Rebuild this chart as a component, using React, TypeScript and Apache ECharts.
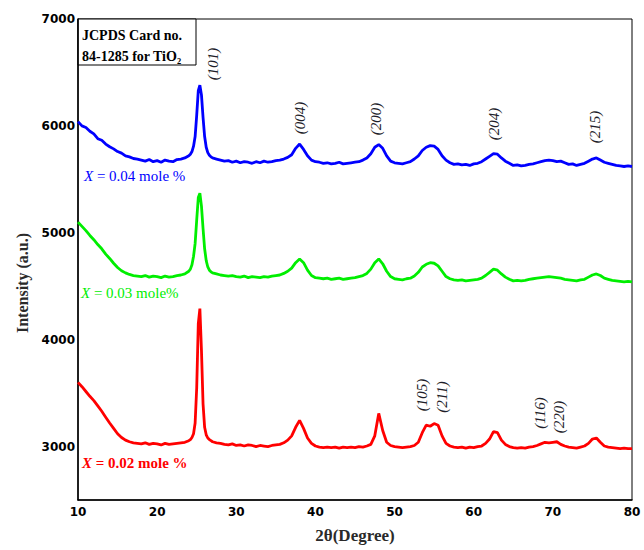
import React, { useEffect, useRef } from "react";
import * as echarts from "echarts";

const twoTheta = [
  10, 10.5, 11, 11.5, 12, 12.5, 13, 13.5, 14, 14.5, 15, 15.5, 16, 16.5, 17, 17.5, 18, 18.5, 19, 19.5, 20, 20.5, 21, 21.5, 22, 22.5, 23, 23.5, 24,
  24.2, 24.4, 24.6, 24.8, 25, 25.2, 25.4, 25.6, 25.8, 26, 26.2, 26.4, 26.6, 26.8,
  27, 27.5, 28, 28.5, 29, 29.5, 30, 30.5, 31, 31.5, 32, 32.5, 33, 33.5, 34, 34.5, 35, 35.5, 36, 36.5,
  37, 37.5, 38, 38.5, 39, 39.5, 40, 40.5, 41, 41.5, 42, 42.5, 43, 43.5, 44, 44.5, 45, 45.5, 46, 46.5,
  47, 47.5, 48, 48.5, 49, 49.5, 50, 50.5, 51, 51.5, 52, 52.5, 53, 53.5, 54, 54.5, 55, 55.5, 56, 56.5,
  57, 57.5, 58, 58.5, 59, 59.5, 60, 60.5, 61, 61.5, 62, 62.5, 63, 63.5, 64, 64.5, 65, 65.5, 66, 66.5,
  67, 67.5, 68, 68.5, 69, 69.5, 70, 70.5, 71, 71.5, 72, 72.5, 73, 73.5, 74, 74.5, 75, 75.5, 76, 76.5,
  77, 77.5, 78, 78.5, 79, 79.5, 80,
];

const x004 = [
  6040, 6000, 5985, 5950, 5925, 5880, 5865, 5830, 5805, 5785, 5760, 5745, 5720, 5710, 5695, 5690, 5680, 5670, 5685, 5665, 5675, 5660, 5680, 5670, 5665, 5685, 5690, 5700, 5720,
  5735, 5760, 5810, 5900, 6100, 6330, 6380, 6290, 6080, 5900, 5800, 5750, 5725, 5710,
  5700, 5690, 5680, 5670, 5675, 5660, 5670, 5655, 5665, 5660, 5650, 5665, 5655, 5670, 5660, 5665, 5675, 5680, 5690, 5705,
  5730, 5790, 5830, 5780, 5720, 5680, 5665, 5660, 5650, 5655, 5645, 5650, 5660, 5645, 5650, 5655, 5660, 5665, 5680, 5700,
  5740, 5800, 5825, 5790, 5720, 5670, 5655, 5650, 5645, 5655, 5665, 5690, 5720, 5770, 5800, 5815, 5810, 5780, 5720, 5680,
  5655, 5640, 5645, 5635, 5640, 5630, 5645, 5650, 5665, 5690, 5715, 5740, 5735, 5700, 5670, 5650, 5630, 5635, 5625, 5630,
  5640, 5645, 5655, 5665, 5675, 5680, 5675, 5665, 5670, 5655, 5640, 5645, 5630, 5640, 5650, 5670, 5690, 5700, 5680, 5660,
  5650, 5640, 5630, 5625, 5620, 5625, 5620,
];

const x003 = [
  5100, 5060, 5020, 4975, 4935, 4890, 4850, 4800, 4760, 4715, 4675, 4645, 4625, 4610, 4600, 4595, 4590, 4600, 4585, 4595, 4590, 4580, 4595, 4585, 4590, 4600, 4605, 4615, 4640,
  4660, 4700, 4780, 4900, 5120, 5330, 5370, 5250, 5040, 4850, 4740, 4680, 4650, 4635,
  4625, 4615, 4605, 4600, 4595, 4600, 4590, 4585, 4595, 4580, 4590, 4585, 4580, 4590, 4585, 4595, 4600, 4605, 4620, 4640,
  4670, 4720, 4755, 4720, 4650, 4600, 4580, 4575, 4570, 4575, 4565, 4570, 4575, 4565, 4570, 4575, 4580, 4590, 4600, 4620,
  4660, 4720, 4755, 4710, 4640, 4590, 4570, 4565, 4560, 4570, 4575, 4595, 4630, 4680, 4705, 4720, 4715, 4690, 4640, 4590,
  4570, 4560, 4555, 4560, 4550, 4555, 4560, 4565, 4575, 4600, 4630, 4660, 4650, 4615, 4585, 4565, 4550, 4555, 4550, 4555,
  4565, 4570, 4575, 4580, 4585, 4590, 4585, 4580, 4575, 4565, 4560, 4555, 4550, 4560, 4565, 4585, 4605, 4615, 4600, 4575,
  4565, 4555, 4550, 4545, 4540, 4545, 4540,
];

const x002 = [
  3600, 3560, 3515, 3470, 3430, 3380, 3330, 3275, 3220, 3170, 3120, 3085, 3060, 3045, 3035, 3030, 3025, 3035, 3020, 3030, 3025, 3015, 3030, 3020, 3025, 3030, 3035, 3040, 3055,
  3065, 3085, 3120, 3220, 3550, 4150, 4290, 3900, 3400, 3180, 3110, 3080, 3065, 3055,
  3045, 3035, 3030, 3020, 3015, 3025, 3010, 3015, 3005, 3015, 3010, 3000, 3010, 3005, 3000, 3010, 3015, 3020, 3035, 3060,
  3100, 3180, 3245, 3170, 3080, 3030, 3005, 2995, 2990, 2995, 2990, 2995, 2985, 2995, 2990, 2995, 2990, 3000, 2995, 3005,
  3020, 3100, 3310, 3150, 3040, 3010, 3000, 2995, 2990, 2995, 3000, 3010, 3040, 3130, 3200, 3190, 3215, 3200, 3100, 3030,
  3005, 2995, 2990, 2995, 2985, 2995, 2990, 3000, 3005, 3030, 3070, 3140, 3130, 3060, 3020, 3000, 2990, 2985, 2990, 2985,
  2995, 3000, 3010, 3025, 3040, 3035, 3040, 3045, 3020, 3005, 2995, 2990, 2985, 2995, 3005, 3030, 3070, 3080, 3040, 3005,
  2995, 2990, 2985, 2980, 2985, 2980, 2980,
];

const seriesNames = ["X = 0.04 mole %", "X = 0.03 mole%", "X = 0.02 mole %"];
const seriesColors = ["#0000ff", "#00ee00", "#ff0000"];

const peakLabels = ["(101)", "(004)", "(200)", "(204)", "(215)", "(105)", "(211)", "(116)", "(220)"];
const yTickLabels = ["3000", "4000", "5000", "6000", "7000"];

export default function App() {
  const ref = useRef<HTMLDivElement>(null);
  useEffect(() => {
    document.body.style.margin = "0";
    if (!ref.current) return;
    const chart = echarts.init(ref.current, undefined, { renderer: "svg" });
    const zip = (ys: number[]) => twoTheta.map((t, i) => [t, ys[i]]);
    const peakPos = [
      [213, 64], [300, 118], [376, 119], [494, 124], [595, 127],
      [422, 395], [442, 397], [540, 413], [559, 417],
    ];
    const legendPos = [[84, 176], [81, 293], [82, 463]];
    const serif = "'Liberation Serif', 'Times New Roman', serif";
    const graphics: any[] = [];
    peakLabels.forEach((t, i) => {
      graphics.push({
        type: "text",
        x: peakPos[i][0],
        y: peakPos[i][1],
        rotation: Math.PI / 2,
        style: {
          text: t,
          font: `italic 15px ${serif}`,
          fill: "#1e1e2a",
          textAlign: "center",
          textVerticalAlign: "middle",
        },
      });
    });
    seriesNames.forEach((n, i) => {
      const rest = n.slice(1);
      graphics.push({
        type: "text",
        x: legendPos[i][0],
        y: legendPos[i][1],
        style: {
          text: `{i|X}{r|${rest}}`,
          textVerticalAlign: "middle",
          rich: {
            i: { fontFamily: serif, fontStyle: "italic", fontSize: 15, fill: seriesColors[i], fontWeight: i === 2 ? "bold" : "normal" },
            r: { fontFamily: serif, fontSize: 15, fill: seriesColors[i], fontWeight: i === 2 ? "bold" : "normal" },
          },
        },
      });
    });
    graphics.push({
      type: "rect",
      shape: { x: 78, y: 19, width: 118, height: 46 },
      style: { fill: "#fff", stroke: "#000", lineWidth: 1 },
    });
    graphics.push({
      type: "text",
      x: 82,
      y: 35,
      style: { text: "JCPDS Card no.", font: `bold 14px ${serif}`, fill: "#000", textVerticalAlign: "middle" },
    });
    graphics.push({
      type: "text",
      x: 82,
      y: 56,
      style: { text: "84-1285 for TiO₂", font: `bold 14px ${serif}`, fill: "#000", textVerticalAlign: "middle" },
    });
    graphics.push({
      type: "text",
      x: 22,
      y: 283,
      rotation: Math.PI / 2,
      style: {
        text: "Intensity (a.u.)",
        font: `bold 16px ${serif}`,
        fill: "#2a2a2a",
        textAlign: "center",
        textVerticalAlign: "middle",
      },
    });

    chart.setOption({
      animation: false,
      backgroundColor: "#fff",
      grid: {
        left: 78, top: 19, right: 12, bottom: 50,
        show: true, borderColor: "#000", borderWidth: 1,
        outerBoundsMode: "none",
      },
      xAxis: {
        type: "value",
        min: 10,
        max: 80,
        interval: 10,
        name: "2θ(Degree)",
        nameLocation: "middle",
        nameGap: 27,
        nameTextStyle: { fontFamily: serif, fontWeight: "bold", fontSize: 17, color: "#2a2a2a" },
        axisLine: { show: true, lineStyle: { color: "#000", width: 1.5 } },
        axisTick: { show: false },
        splitLine: { show: false },
        axisLabel: { fontFamily: "'DejaVu Sans', sans-serif", fontWeight: "bold", fontSize: 12, color: "#000", margin: 6 },
      },
      yAxis: {
        type: "value",
        min: 2500,
        max: 7000,
        interval: 500,
        axisLine: { show: true, lineStyle: { color: "#000", width: 1.5 } },
        axisTick: { show: false },
        splitLine: { show: false },
        axisLabel: {
          fontFamily: "'DejaVu Sans', sans-serif",
          fontWeight: "bold",
          fontSize: 12,
          color: "#000",
          margin: 3,
          formatter: (v: number) => (yTickLabels.indexOf(String(v)) >= 0 ? String(v) : ""),
        },
      },
      series: [x004, x003, x002].map((ys, i) => ({
        name: seriesNames[i],
        type: "line",
        data: zip(ys),
        showSymbol: false,
        lineStyle: { color: seriesColors[i], width: 2.8 },
        itemStyle: { color: seriesColors[i] },
      })),
      graphic: graphics,
    });
    return () => chart.dispose();
  }, []);
  return <div ref={ref} style={{ width: 644, height: 550 }} />;
}
